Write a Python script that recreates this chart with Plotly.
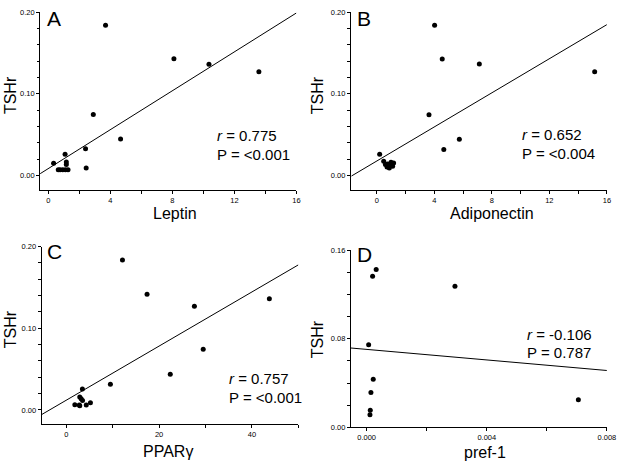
import plotly.graph_objects as go

W, H = 629, 470

# ---------------- data ----------------
leptin_x = [0.34, 0.64, 0.76, 0.93, 1.10, 1.27, 1.08, 1.16, 1.16, 2.40, 2.44, 2.90, 3.69, 4.66, 8.10, 10.36, 13.58]
leptin_y = [0.0149, 0.0069, 0.0069, 0.0069, 0.0069, 0.0069, 0.0257, 0.0165, 0.0132, 0.0325, 0.0089, 0.0746, 0.184, 0.0445, 0.143, 0.136, 0.127]
leptin_fit_x = [-0.53, 16.0]
leptin_fit_y = [0.002, 0.199]

adipo_x = [0.20, 0.48, 0.60, 0.71, 0.87, 1.10, 1.17, 0.99, 0.75, 0.92, 3.63, 4.02, 4.55, 4.66, 5.74, 7.13, 15.15]
adipo_y = [0.0260, 0.0172, 0.0132, 0.0103, 0.0091, 0.0112, 0.0151, 0.0160, 0.0139, 0.0124, 0.0743, 0.184, 0.1426, 0.0317, 0.0442, 0.1365, 0.127]
adipo_fit_x = [-1.76, 16.0]
adipo_fit_y = [-0.0008, 0.1847]

ppar_x = [1.84, 2.8, 2.9, 2.9, 3.2, 3.5, 3.47, 4.3, 5.2, 9.5, 12.1, 17.4, 22.4, 27.6, 29.5, 43.75]
ppar_y = [0.0064, 0.0060, 0.0050, 0.0160, 0.0136, 0.0116, 0.0256, 0.0060, 0.0088, 0.0316, 0.1836, 0.1416, 0.0436, 0.127, 0.0744, 0.136]
ppar_fit_x = [-5.3, 50.0]
ppar_fit_y = [-0.0056, 0.1776]

pref_x = [0.0000656, 0.000197, 0.000317, 0.000219, 0.000142, 0.000120, 0.000109, 0.00294, 0.00705]
pref_y = [0.0747, 0.1364, 0.1426, 0.0434, 0.0316, 0.0156, 0.0115, 0.1275, 0.0251]
pref_fit_x = [-0.000525, 0.008]
pref_fit_y = [0.0717, 0.0514]

panel_letters = ["A", "B", "C", "D"]
x_titles = ["Leptin", "Adiponectin", "PPARγ", "pref-1"]
r_texts = ["0.775", "0.652", "0.757", "-0.106"]
p_texts = ["&lt;0.001", "&lt;0.004", "&lt;0.001", "0.787"]

FONT = "Arial, Liberation Sans, sans-serif"

def px(x):
    return x / W

def py(y):
    return 1 - y / H

fig = go.Figure()

panels = [
    dict(x=leptin_x, y=leptin_y, fx=leptin_fit_x, fy=leptin_fit_y,
         dom_x=(40.7, 300.7), dom_y=(8.3, 190.0),
         xr=[-0.53, 16], yr=[-0.0184, 0.20], xdt=4, xmin=2, ydt=0.10, ymin=0.02, xfmt="d", yfmt=".2f",
         letter=(54.5, 14.5), ytitle=(10, 93), xtitle=(178, 214), rt=(218, 134)),
    dict(x=adipo_x, y=adipo_y, fx=adipo_fit_x, fy=adipo_fit_y,
         dom_x=(356.0, 615.7), dom_y=(8.3, 190.0),
         xr=[-1.8, 16], yr=[-0.0184, 0.20], xdt=4, xmin=2, ydt=0.10, ymin=0.02, xfmt="d", yfmt=".2f",
         letter=(369.5, 14.5), ytitle=(321.7, 93), xtitle=(499, 214), rt=(528, 133)),
    dict(x=ppar_x, y=ppar_y, fx=ppar_fit_x, fy=ppar_fit_y,
         dom_x=(42.3, 302.7), dom_y=(247.3, 428.3),
         xr=[-5.3, 50], yr=[-0.0173, 0.20], xdt=20, xmin=10, ydt=0.10, ymin=0.02, xfmt="d", yfmt=".2f",
         letter=(55.5, 252.5), ytitle=(10, 331.7), xtitle=(170.7, 456), rt=(230, 381.7)),
    dict(x=pref_x, y=pref_y, fx=pref_fit_x, fy=pref_fit_y,
         dom_x=(356.0, 615.7), dom_y=(251.0, 431.7),
         xr=[-0.000525, 0.008], yr=[0, 0.16], xdt=0.004, xmin=0.002, ydt=0.08, ymin=0.02, xfmt=".3f", yfmt=".2f",
         letter=(370, 255.5), ytitle=(321.7, 341.7), xtitle=(491.7, 457), rt=(533, 336.7)),
]

annotations = []
layout = {}
for i, p in enumerate(panels):
    n = i + 1
    xa = "x" if n == 1 else f"x{n}"
    ya = "y" if n == 1 else f"y{n}"
    fig.add_trace(go.Scatter(x=p["x"], y=p["y"], mode="markers", xaxis=xa, yaxis=ya,
                             marker=dict(color="black", size=5), showlegend=False, cliponaxis=False))
    fig.add_trace(go.Scatter(x=p["fx"], y=p["fy"], mode="lines", xaxis=xa, yaxis=ya,
                             line=dict(color="black", width=1), showlegend=False))
    axis_common = dict(showline=True, linecolor="black", linewidth=1, showgrid=False, zeroline=False,
                       ticks="outside", ticklen=3, tickwidth=1, tickcolor="black",
                       tickfont=dict(family=FONT, size=7.5, color="black"))
    layout["xaxis" if n == 1 else f"xaxis{n}"] = dict(
        axis_common, domain=[px(p["dom_x"][0]), px(p["dom_x"][1])], range=p["xr"],
        anchor=ya, tick0=0, dtick=p["xdt"], tickformat=p["xfmt"],
        minor=dict(ticks="outside", ticklen=2.5, dtick=p["xmin"], tick0=0, tickcolor="black", showgrid=False))
    layout["yaxis" if n == 1 else f"yaxis{n}"] = dict(
        axis_common, domain=[py(p["dom_y"][1]), py(p["dom_y"][0])], range=p["yr"],
        anchor=xa, tick0=0, dtick=p["ydt"], tickformat=p["yfmt"],
        minor=dict(ticks="outside", ticklen=2.5, dtick=p["ymin"], tick0=0, tickcolor="black", showgrid=False))

    annotations.append(dict(text=panel_letters[i], x=px(p["letter"][0]), y=py(p["letter"][1]),
                            xref="paper", yref="paper", showarrow=False, xanchor="center", yanchor="middle",
                            font=dict(family=FONT, size=21, color="black")))
    annotations.append(dict(text="TSHr", x=px(p["ytitle"][0]), y=py(p["ytitle"][1]), textangle=-90,
                            xref="paper", yref="paper", showarrow=False, xanchor="center", yanchor="middle",
                            font=dict(family=FONT, size=16, color="black")))
    annotations.append(dict(text=x_titles[i], x=px(p["xtitle"][0]), y=py(p["xtitle"][1]),
                            xref="paper", yref="paper", showarrow=False, xanchor="center", yanchor="middle",
                            font=dict(family=FONT, size=16, color="black")))
    annotations.append(dict(text=f"<i>r</i> = {r_texts[i]}", x=px(p["rt"][0]), y=py(p["rt"][1]),
                            xref="paper", yref="paper", showarrow=False, xanchor="left", yanchor="middle",
                            font=dict(family=FONT, size=15, color="black")))
    annotations.append(dict(text=f"P = {p_texts[i]}", x=px(p["rt"][0]), y=py(p["rt"][1] + 19),
                            xref="paper", yref="paper", showarrow=False, xanchor="left", yanchor="middle",
                            font=dict(family=FONT, size=15, color="black")))

fig.update_layout(width=W, height=H, margin=dict(l=0, r=0, t=0, b=0),
                  paper_bgcolor="white", plot_bgcolor="white", annotations=annotations, **layout)

fig.write_html("out.html", config={"displayModeBar": False},
               post_script="document.body.style.margin='0';document.body.style.padding='0';")
